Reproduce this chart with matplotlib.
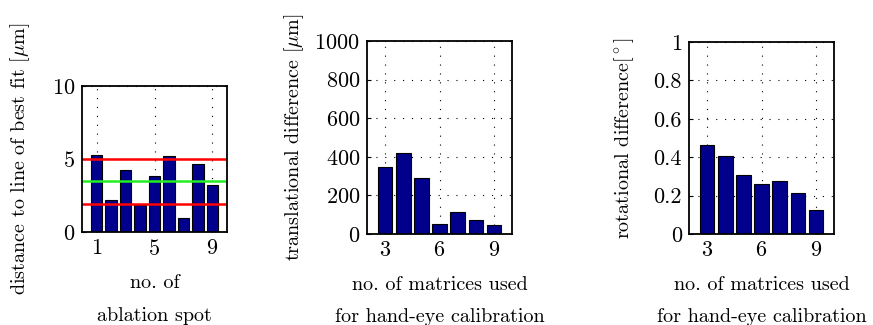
import matplotlib
matplotlib.use("Agg")
import matplotlib.pyplot as plt
import numpy as np

plt.rcParams['font.family'] = 'serif'
plt.rcParams['font.serif'] = ['cmr10']
plt.rcParams['mathtext.fontset'] = 'cm'
plt.rcParams['axes.formatter.use_mathtext'] = True

# Data
spots = [1, 2, 3, 4, 5, 6, 7, 8, 9]
spot_dist = [5.25, 2.19, 4.22, 1.84, 3.85, 5.23, 0.94, 4.68, 3.25]
mean_line = 3.49
upper_line = 5.02
lower_line = 1.94

n_matrices = [3, 4, 5, 6, 7, 8, 9]
trans_diff = [348, 422, 288, 50, 114, 71, 45]
rot_diff = [0.462, 0.405, 0.306, 0.262, 0.274, 0.215, 0.123]

W, H = 873, 325
fig = plt.figure(figsize=(W / 100, H / 100), dpi=100)

def px_axes(l, r, t, b):
    return fig.add_axes([l / W, (H - b) / H, (r - l) / W, (b - t) / H])

bar_color = '#00008c'
fs = 14.5
tfs = 16

def style(ax, xlim, ylim, xticks, yticks):
    ax.set_xlim(*xlim)
    ax.set_ylim(*ylim)
    ax.set_xticks(xticks)
    ax.set_yticks(yticks)
    ax.tick_params(direction='in', length=3, width=0.8, labelsize=tfs, pad=5,
                   top=False, right=False)
    for s in ax.spines.values():
        s.set_linewidth(1.3)
    ax.grid(True, linestyle=(0, (1, 7)), color='black', linewidth=0.8)
    ax.set_axisbelow(True)

ax1 = px_axes(82, 227, 86, 232)
ax1.bar(spots, spot_dist, width=0.8, color=bar_color, edgecolor='black', linewidth=0.8)
ax1.axhline(upper_line, color='red', lw=1.8)
ax1.axhline(lower_line, color='red', lw=1.8)
ax1.axhline(mean_line, color='#22ee22', lw=1.8)
style(ax1, (0, 10), (0, 10), [1, 5, 9], [0, 5, 10])
ax1.set_ylabel(r'distance to line of best fit [$\mu$m]', fontsize=fs, labelpad=14)
ax1.set_xlabel('no. of\nablation spot', fontsize=fs, linespacing=2.05, labelpad=11)

ax2 = px_axes(367, 512, 41, 234)
ax2.bar(n_matrices, trans_diff, width=0.8, color=bar_color, edgecolor='black', linewidth=0.8)
style(ax2, (2, 10), (0, 1000), [3, 6, 9], [0, 200, 400, 600, 800, 1000])
ax2.set_ylabel(r'translational difference [$\mu$m]', fontsize=fs, labelpad=6)
ax2.set_xlabel('no. of matrices used\nfor hand-eye calibration', fontsize=fs, linespacing=2.05, labelpad=11)

ax3 = px_axes(689, 834, 42, 234)
ax3.bar(n_matrices, rot_diff, width=0.8, color=bar_color, edgecolor='black', linewidth=0.8)
style(ax3, (2, 10), (0, 1), [3, 6, 9], [0, 0.2, 0.4, 0.6, 0.8, 1])
ax3.set_yticklabels(['0', '0.2', '0.4', '0.6', '0.8', '1'])
ax3.set_ylabel(r'rotational difference[$^\circ$]', fontsize=fs, labelpad=13)
ax3.set_xlabel('no. of matrices used\nfor hand-eye calibration', fontsize=fs, linespacing=2.05, labelpad=11)

fig.savefig('out.png', dpi=100)
